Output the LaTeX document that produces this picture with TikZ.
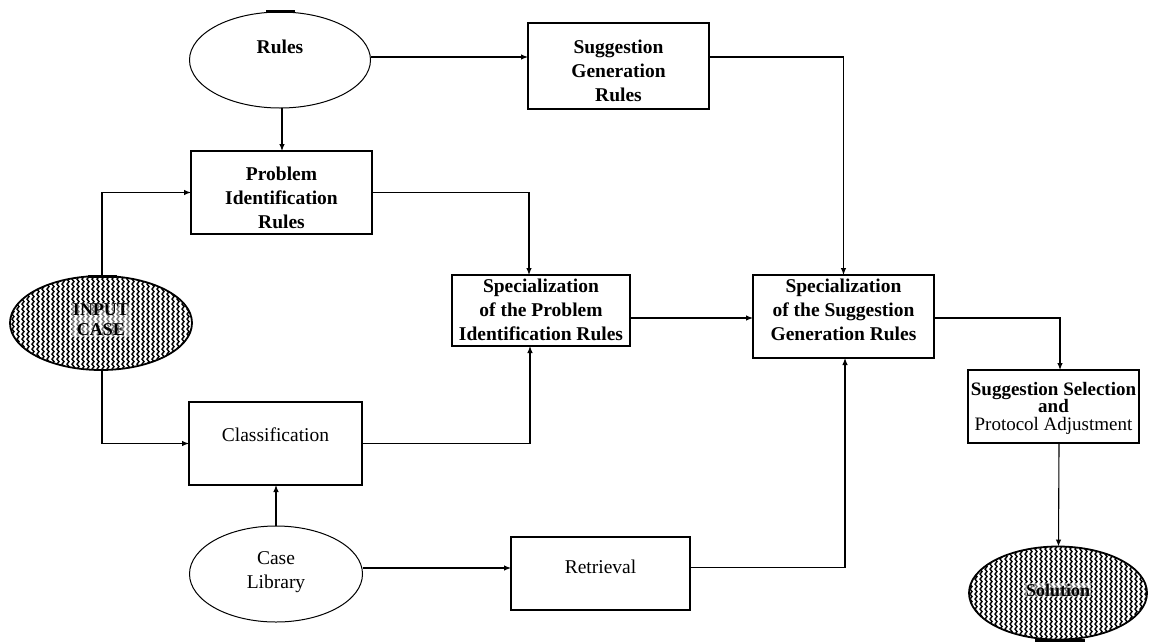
\documentclass[tikz,border=0pt]{standalone}
\usepackage{fontspec}
\setmainfont{Liberation Serif}
\usetikzlibrary{arrows.meta,shapes.geometric,decorations.pathmorphing}

\begin{document}
\begin{tikzpicture}[x=1pt,y=-1pt,
  stepbox/.style={draw,rectangle,line width=1.4pt,inner sep=0pt,outer sep=0pt},
  oval/.style={draw,ellipse,line width=1pt,inner sep=0pt,outer sep=0pt},
  darkoval/.style={draw,ellipse,line width=1.8pt,inner sep=0pt,outer sep=0pt},
  lbl/.style={align=center,inner sep=0pt,font=\bfseries\fontsize{19.5}{24}\selectfont},
  plainlbl/.style={align=center,inner sep=0pt,font=\fontsize{19.5}{24}\selectfont},
  arr/.style={-{Latex[length=7pt,width=5.5pt]},line width=1.1pt},
  hatch/.style={line width=1.4pt,decorate,decoration={snake,amplitude=1pt,segment length=5pt}},
  handle/.style={line width=3pt}
]
\useasboundingbox[fill=white] (0,0) rectangle (1155,643);

% hatched fill of the two terminal ellipses
\begin{scope}
  \clip (101,323) ellipse [x radius=91pt, y radius=47pt];
  \foreach \x in {8,13,...,196} \draw[hatch] (\x,270) -- (\x,376);
\end{scope}
\begin{scope}
  \clip (1058,593) ellipse [x radius=89pt, y radius=46.5pt];
  \foreach \x in {966,971,...,1150} \draw[hatch] (\x,540) -- (\x,646);
\end{scope}

% ellipses
\node[oval,minimum width=181pt,minimum height=96pt] (rules) at (280,60) {};
\node[darkoval,minimum width=182pt,minimum height=94pt] (inp) at (101,323) {};
\node[oval,minimum width=173pt,minimum height=96pt] (cases) at (276,574) {};
\node[darkoval,minimum width=178pt,minimum height=93pt] (sol) at (1058,593) {};

% boxes
\node[stepbox,minimum width=181pt,minimum height=86pt] (sg) at (618.5,66) {};
\node[stepbox,minimum width=181pt,minimum height=83pt] (pir) at (281.5,192.5) {};
\node[stepbox,minimum width=178pt,minimum height=71pt] (specpir) at (541,310.5) {};
\node[stepbox,minimum width=181pt,minimum height=83pt] (specsg) at (843.5,316.5) {};
\node[stepbox,minimum width=173pt,minimum height=83pt] (cls) at (275.5,443.5) {};
\node[stepbox,minimum width=179pt,minimum height=73pt] (ret) at (600.5,573.5) {};
\node[stepbox,minimum width=171pt,minimum height=73pt] (ss) at (1053.5,406.5) {};

% small handles on the ellipses
\draw[handle] (266,11.5) -- (295,11.5);
\draw[handle] (88,276.5) -- (117,276.5);
\draw[handle] (1035,640) -- (1085,640);

% labels
\node[lbl] (tRules) at (280,47) {Rules};
\node[lbl] (tSg) at (618.5,71) {Suggestion\\Generation\\Rules};
\node[lbl] (tPir) at (281.5,198) {Problem\\Identification\\Rules};
\node[lbl] (tSpecPir) at (541,310) {Specialization\\of the Problem\\Identification Rules};
\node[lbl] (tSpecSg) at (843.5,310) {Specialization\\of the Suggestion\\Generation Rules};
\node[plainlbl] (tCls) at (275.5,435) {Classification};
\node[plainlbl] (tRet) at (600.5,567) {Retrieval};
\node[plainlbl] (tCases) at (276,572) {Case\\Library};
\node[align=center,inner sep=0pt,font=\fontsize{19}{17.5}\selectfont] (tSs) at (1053.5,408)
  {\textbf{Suggestion Selection}\\\textbf{and}\\Protocol Adjustment};
\node[lbl,fill=white,fill opacity=0.45,text opacity=1,inner sep=1pt,
  font=\bfseries\fontsize{18}{20}\selectfont] (tInp) at (101,320) {INPUT\\CASE};
\node[lbl,fill=white,fill opacity=0.45,text opacity=1,inner sep=1pt,
  font=\bfseries\fontsize{18}{20}\selectfont] (tSol) at (1058,590) {Solution};

% connectors
\draw[arr] ([yshift=3pt]rules.east) -- ([yshift=3pt]rules.east -| sg.west);
\draw[arr] ([xshift=2pt]rules.south) -- ([xshift=2pt]rules.south |- pir.north);
\draw[arr] ([yshift=9pt]sg.east) -| (specsg.north);
\draw[arr] ([xshift=1pt]inp.north) |- (pir.west);
\draw[arr] ([xshift=1pt]inp.south) |- (cls.west);
\draw[arr] (pir.east) -| ([xshift=-12pt]specpir.north);
\draw[arr] (cls.east) -| ([xshift=-11pt]specpir.south);
\draw[arr] ([yshift=-7.5pt]specpir.east) -- ([yshift=-7.5pt]specpir.east -| specsg.west);
\draw[arr] ([yshift=-1.5pt]specsg.east) -| ([xshift=6.5pt]ss.north);
\draw[arr] ([xshift=5.5pt]ss.south) -- ([xshift=0.5pt]sol.north);
\draw[arr] (cases.north) -- (cases.north |- cls.south);
\draw[arr] ([yshift=6pt]cases.east) -- ([yshift=6pt]cases.east -| ret.west);
\draw[arr] ([yshift=6pt]ret.east) -| ([xshift=1.5pt]specsg.south);
\end{tikzpicture}
\end{document}
